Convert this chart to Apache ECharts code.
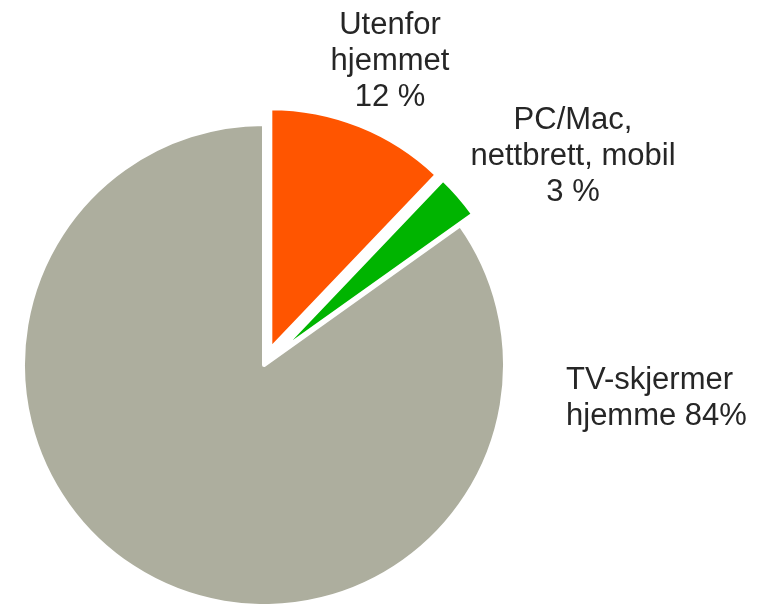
<!DOCTYPE html>
<html>
<head>
<meta charset="utf-8">
<script src="https://cdn.jsdelivr.net/npm/echarts@6/dist/echarts.min.js"></script>
<style>
  html, body { margin: 0; padding: 0; background: #fff; }
  #chart { width: 757px; height: 604px; }
</style>
</head>
<body>
<div id="chart"></div>
<script>
// Data
const categories = ['Utenfor hjemmet', 'PC/Mac, nettbrett, mobil', 'TV-skjermer hjemme'];
const values = [12, 3, 84];
const labelTexts = [
  'Utenfor\nhjemmet\n12 %',
  'PC/Mac,\nnettbrett, mobil\n3 %',
  'TV-skjermer\nhjemme 84%'
];
const exploded = [true, true, false];

// Styles
const colors = ['#FF5500', '#00B400', '#ADAE9E'];
const labelAnchors = [
  { x: 390, y: 61, align: 'center' },
  { x: 573, y: 156, align: 'center' },
  { x: 566, y: 398, align: 'left' }
];
const labelFont = '31px "Liberation Sans", Arial, sans-serif';

const chart = echarts.init(document.getElementById('chart'));

chart.setOption({
  animation: false,
  series: [{
    type: 'pie',
    center: [264, 365],
    radius: 241,
    startAngle: 90,
    clockwise: true,
    selectedMode: 'multiple',
    selectedOffset: 17,
    silent: true,
    itemStyle: { borderColor: '#fff', borderWidth: 4 },
    label: { show: false },
    labelLine: { show: false },
    data: categories.map((name, i) => ({
      name: name,
      value: values[i],
      selected: exploded[i],
      itemStyle: { color: colors[i] }
    }))
  }],
  // slice labels placed beside their slices
  graphic: labelTexts.map((t, i) => ({
    type: 'text',
    x: labelAnchors[i].x,
    y: labelAnchors[i].y,
    silent: true,
    style: {
      text: t,
      font: labelFont,
      lineHeight: 36,
      fill: '#262626',
      align: labelAnchors[i].align,
      verticalAlign: 'middle'
    }
  }))
});
</script>
</body>
</html>
